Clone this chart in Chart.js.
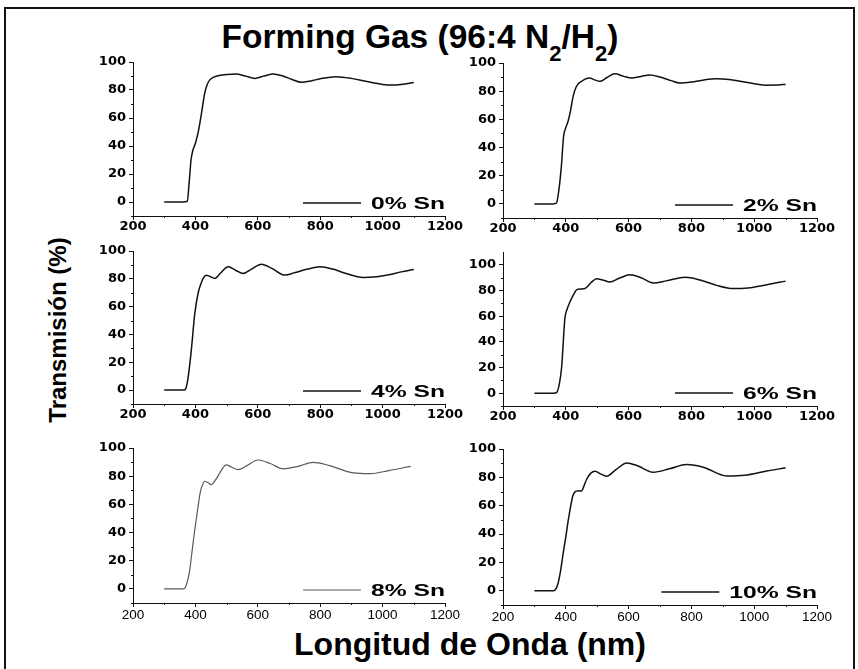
<!DOCTYPE html>
<html>
<head>
<meta charset="utf-8">
<script src="https://cdn.jsdelivr.net/npm/chart.js@4.4.1/dist/chart.umd.min.js"></script>
<style>
  body { margin: 0; background: #fff; width: 858px; height: 669px; overflow: hidden; position: relative;
         font-family: "Liberation Sans", Arial, sans-serif; color: #000; }
  #frame { position: absolute; left: 4px; top: 7px; width: 847px; height: 700px; border: 2px solid #111; }
  .panel { position: absolute; }
  #title { position: absolute; left: 0; top: 20px; width: 840px; text-align: center;
           font-weight: bold; font-size: 33.5px; line-height: 33px; white-space: nowrap; }
  #title sub { font-size: 22px; vertical-align: -13px; line-height: 0; }
  #ytitle { position: absolute; left: 58px; top: 330px; transform: translate(-50%, -50%) rotate(-90deg);
            font-weight: bold; font-size: 24px; line-height: 24px; white-space: nowrap; }
  #xtitle { position: absolute; left: 270px; top: 628px; width: 400px; text-align: center;
            font-weight: bold; font-size: 32px; line-height: 32px; white-space: nowrap; }
</style>
</head>
<body>
<div id="frame"></div>
<div id="title">Forming Gas (96:4 N<sub>2</sub>/H<sub>2</sub>)</div>
<div id="ytitle">Transmisión (%)</div>
<div id="xtitle">Longitud de Onda (nm)</div>

<script>
// Transmission spectra, wavelength in nm, transmission in %
const labels = ['0% Sn', '2% Sn', '4% Sn', '6% Sn', '8% Sn', '10% Sn'];

const wlSn0 = [300, 360, 374, 380, 386, 392, 400, 410, 420, 430, 440, 450, 470, 500, 530, 560, 590, 620, 650, 680, 710, 740, 770, 800, 850, 900, 950, 1000, 1030, 1060, 1100];
const tSn0  = [0, 0, 0.5, 14, 30, 37, 42, 51, 64, 78, 85, 88, 90, 91, 91.5, 90, 88.3, 90, 91.5, 90, 87.5, 85.5, 86.5, 88, 89.5, 88.3, 86, 84, 83.5, 84, 85.3];

const wlSn2 = [300, 360, 370, 378, 386, 393, 400, 407, 415, 423, 434, 450, 476, 492, 508, 530, 556, 585, 610, 640, 668, 700, 735, 763, 800, 840, 880, 920, 960, 1000, 1040, 1070, 1100];
const tSn2  = [0, 0, 0.5, 10, 27, 48, 54, 58.5, 66, 76, 83.5, 87, 89.3, 88, 87, 89.5, 92.3, 90.5, 89.3, 90.5, 91.5, 90, 87.5, 85.8, 86.5, 88, 88.8, 88.3, 86.8, 85.3, 84.2, 84.3, 85];

const wlSn4 = [300, 360, 368, 376, 387, 398, 409, 417, 425, 435, 448, 462, 480, 505, 530, 553, 580, 612, 645, 687, 720, 760, 799, 840, 880, 938, 980, 1020, 1060, 1100];
const tSn4  = [0, 0, 0.5, 8, 29, 55, 70, 76, 80.3, 82.5, 81.5, 80.3, 84, 88.6, 86, 83.8, 87, 90.5, 87.5, 82.7, 84.5, 87, 88.6, 87, 84, 81, 81.5, 83, 85, 86.7];

const wlSn6 = [300, 360, 371, 380, 387, 397, 405, 413, 425, 435, 448, 461, 480, 498, 520, 540, 570, 604, 640, 679, 720, 780, 830, 880, 934, 980, 1040, 1100];
const tSn6  = [0, 0, 0.5, 8, 21, 58, 66, 71, 77, 80.7, 81.2, 81.5, 86, 89.2, 88, 86.6, 89.5, 92.3, 90, 85.9, 87.5, 90.3, 88, 84, 81.5, 82, 84.5, 87.3];

const wlSn8 = [300, 360, 366, 374, 382, 390, 398, 407, 416, 423, 430, 440, 451, 465, 478, 490, 499, 515, 537, 565, 601, 640, 681, 730, 777, 830, 906, 960, 1020, 1090];
const tSn8  = [0, 0, 0.5, 5, 13.7, 28, 42, 56, 69, 74, 76.4, 75.5, 74, 77.5, 82.3, 86.5, 88, 86.5, 84.6, 87.5, 91.5, 89, 85.2, 87, 89.8, 87.5, 82.3, 81.8, 84, 87];

const wlSn10 = [300, 360, 366, 375, 384, 392, 400, 408, 415, 422, 428, 434, 442, 450, 458, 466, 480, 493, 510, 530, 560, 594, 630, 679, 730, 785, 840, 912, 970, 1040, 1100];
const tSn10  = [0, 0, 0.5, 5, 15, 27, 38, 50, 59, 66.7, 69.5, 70.3, 70.5, 70.3, 74, 78.5, 83, 84.3, 82.5, 80.8, 85.5, 90.2, 88, 83.6, 86, 89, 87, 81, 81.5, 84.5, 86.7];

const xTicks = [200, 400, 600, 800, 1000, 1200];
const yTicks = [0, 20, 40, 60, 80, 100];

const spectra = [
  { wl: wlSn0,  t: tSn0  },
  { wl: wlSn2,  t: tSn2  },
  { wl: wlSn4,  t: tSn4  },
  { wl: wlSn6,  t: tSn6  },
  { wl: wlSn8,  t: tSn8  },
  { wl: wlSn10, t: tSn10 }
];

// plot-area boxes on the page (left, right, top, bottom) and y range of each panel
const boxes = [
  { l: 133, r: 445, t: 62,  b: 216, yMax: 100 },
  { l: 503, r: 817, t: 63,  b: 218, yMax: 100 },
  { l: 133, r: 445, t: 251, b: 404, yMax: 100 },
  { l: 503, r: 817, t: 252, b: 406, yMax: 110 },
  { l: 133, r: 445, t: 448, b: 603, yMax: 100 },
  { l: 503, r: 817, t: 449, b: 605, yMax: 100 }
];

const Y_W = 45, X_H = 24, PAD_T = 12, PAD_R = 26;
const INK = '#111';

// small unlabeled ticks halfway between the labeled ones
const minorTicks = {
  id: 'minorTicks',
  afterDraw(chart) {
    const { ctx, chartArea: a, scales: { x, y } } = chart;
    ctx.save();
    ctx.strokeStyle = INK;
    ctx.lineWidth = 1;
    ctx.beginPath();
    for (let v = 300; v < 1200; v += 200) {
      const px = Math.round(x.getPixelForValue(v)) + 0.5;
      ctx.moveTo(px, a.bottom);
      ctx.lineTo(px, a.bottom + 2);
    }
    for (let v = -10; v < y.max; v += 20) {
      if (v < y.min) continue;
      const py = Math.round(y.getPixelForValue(v)) + 0.5;
      ctx.moveTo(a.left, py);
      ctx.lineTo(a.left - 2, py);
    }
    ctx.stroke();
    ctx.restore();
  }
};

// legend sits inside the plot, bottom right
const insetLegend = {
  id: 'insetLegend',
  afterDraw(chart) {
    const ds = chart.data.datasets[0];
    const { ctx, chartArea: a } = chart;
    const stretch = 1.45;
    const yy = a.bottom - 13;
    ctx.save();
    ctx.font = 'bold 17px "Liberation Sans", Arial, sans-serif';
    const tw = ctx.measureText(ds.label).width * stretch;
    const tx = a.right - tw;
    ctx.strokeStyle = ds.borderColor;
    ctx.lineWidth = ds.borderWidth;
    ctx.beginPath();
    ctx.moveTo(tx - 68, yy);
    ctx.lineTo(tx - 10, yy);
    ctx.stroke();
    ctx.translate(tx, yy);
    ctx.scale(stretch, 1);
    ctx.fillStyle = '#000';
    ctx.textBaseline = 'middle';
    ctx.fillText(ds.label, 0, 1);
    ctx.restore();
  }
};

function makePanel(i) {
  const b = boxes[i];
  const bottomRow = i >= 4;
  const canvas = document.createElement('canvas');
  canvas.className = 'panel';
  const w = Y_W + (b.r - b.l) + PAD_R;
  const h = PAD_T + (b.b - b.t) + X_H;
  canvas.width = w;
  canvas.height = h;
  canvas.style.left = (b.l - Y_W) + 'px';
  canvas.style.top = (b.t - PAD_T) + 'px';
  canvas.style.width = w + 'px';
  canvas.style.height = h + 'px';
  document.body.appendChild(canvas);

  const s = spectra[i];
  const points = s.wl.map((x, k) => ({ x, y: s.t[k] }));
  const lineColor = i === 4 ? '#5a5a5a' : INK;

  new Chart(canvas, {
    type: 'line',
    data: {
      datasets: [{
        label: labels[i],
        data: points,
        borderColor: lineColor,
        borderWidth: i === 4 ? 1.2 : 1.5,
        pointRadius: 0,
        fill: false,
        cubicInterpolationMode: 'monotone'
      }]
    },
    options: {
      responsive: false,
      devicePixelRatio: 1,
      animation: false,
      layout: { padding: { top: PAD_T, right: PAD_R, left: 0, bottom: 0 } },
      plugins: { legend: { display: false }, tooltip: { enabled: false } },
      scales: {
        x: {
          type: 'linear',
          min: 200,
          max: 1200,
          afterBuildTicks: sc => { sc.ticks = xTicks.map(v => ({ value: v })); },
          afterFit: sc => { sc.height = X_H; },
          grid: { drawOnChartArea: false, drawTicks: true, tickLength: 4, color: INK },
          border: { display: true, color: INK, width: 1 },
          ticks: {
            color: '#000',
            padding: bottomRow ? 2 : 0,
            maxRotation: 0,
            callback: v => String(v),
            font: bottomRow
              ? { family: '"Liberation Sans", Arial, sans-serif', size: 13.5, weight: 'normal', lineHeight: 1 }
              : { family: '"DejaVu Sans", sans-serif', size: 13, weight: 'bold', lineHeight: 1 }
          }
        },
        y: {
          min: -10,
          max: b.yMax,
          afterBuildTicks: sc => { sc.ticks = yTicks.map(v => ({ value: v })); },
          afterFit: sc => { sc.width = Y_W; },
          grid: { drawOnChartArea: false, drawTicks: true, tickLength: 4, color: INK },
          border: { display: true, color: INK, width: 1 },
          ticks: {
            color: '#000',
            padding: 3,
            callback: v => String(v),
            font: { family: '"DejaVu Sans", sans-serif', size: 13, weight: 'bold', lineHeight: 1 }
          }
        }
      }
    },
    plugins: [minorTicks, insetLegend]
  });
}

for (let i = 0; i < 6; i++) makePanel(i);
</script>
</body>
</html>
